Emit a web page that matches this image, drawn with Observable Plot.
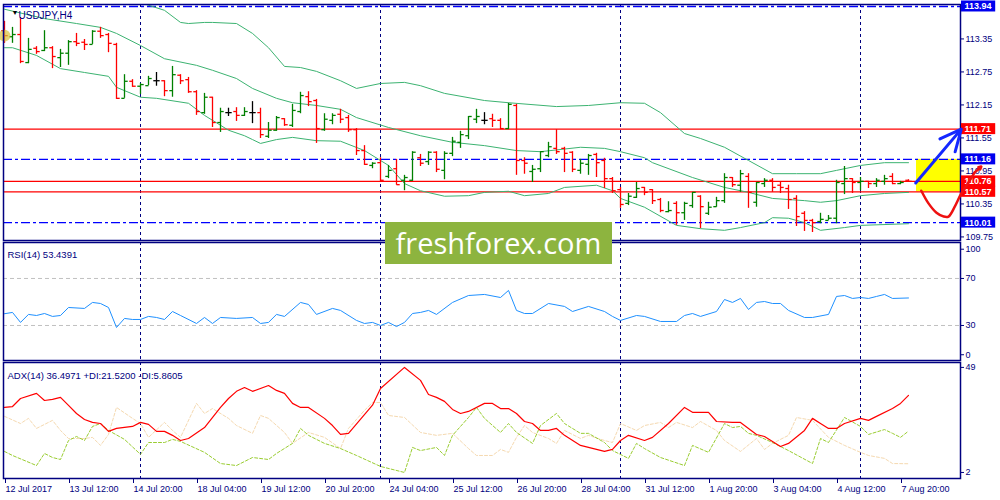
<!DOCTYPE html>
<html><head><meta charset="utf-8">
<script src="https://cdn.jsdelivr.net/npm/d3@7"></script>
<script src="https://cdn.jsdelivr.net/npm/@observablehq/plot@0.6"></script>
<style>
body{margin:0;background:#fff;}
#wrap{position:relative;width:1000px;height:500px;overflow:hidden;background:#fff;}
.panel{position:absolute;left:0;}
#wm{position:absolute;left:385px;top:222px;width:227px;height:42px;background:#8db43f;color:#fff;font-family:"Open Sans",sans-serif;font-size:29px;line-height:41px;text-align:center;}
</style></head><body>
<div id="wrap">
 <div id="main" class="panel" style="top:0"></div>
 <div id="rsi" class="panel" style="top:240px"></div>
 <div id="adx" class="panel" style="top:360px"></div>
 <div id="wm">freshforex.com</div>
</div>
<script>
// ---- OHLC (USDJPY H4), bar index 0..113 ----
const opens = [113.50,113.39,113.43,112.92,113.18,113.14,113.19,113.01,113.09,113.30,
 113.29,113.25,113.49,113.43,113.25,112.27,112.58,112.49,112.50,112.59,
 112.59,112.41,112.69,112.61,112.39,112.01,112.29,111.83,112.01,112.03,
 111.96,112.01,112.01,111.58,111.69,111.90,111.78,112.03,112.30,112.23,
 111.70,111.87,111.98,111.92,111.70,111.32,111.05,111.10,110.85,110.99,
 110.78,110.78,111.19,111.12,111.29,110.96,111.27,111.47,111.59,111.89,
 111.87,111.90,111.87,111.72,112.14,111.14,110.94,110.99,111.23,111.36,
 111.36,111.29,110.96,111.07,111.25,111.14,110.81,110.61,110.36,110.47,
 110.65,110.61,110.43,110.21,110.36,110.19,110.32,110.49,110.18,110.30,
 110.41,110.83,110.69,110.85,110.38,110.72,110.78,110.69,110.63,110.45,
 110.18,110.05,110.03,110.05,110.09,110.72,110.81,110.74,110.76,110.72,
 110.76,110.85,110.72,110.78];
const highs = [113.67,113.56,113.74,113.36,113.21,113.50,113.21,113.16,113.32,113.45,
 113.34,113.50,113.56,113.45,113.27,112.70,112.61,112.54,112.67,112.74,
 112.59,112.85,112.70,112.65,112.41,112.36,112.29,112.09,112.09,112.10,
 112.10,112.21,112.09,111.83,111.94,111.90,112.16,112.38,112.39,112.25,
 111.99,111.99,112.07,111.96,111.72,111.41,111.10,111.19,111.05,111.16,
 110.87,111.30,111.25,111.30,111.30,111.30,111.56,111.67,111.94,112.07,
 112.01,111.98,111.90,112.18,112.16,111.19,111.05,111.30,111.47,111.70,
 111.38,111.30,111.16,111.25,111.27,111.18,110.83,110.65,110.54,110.74,
 110.65,110.61,110.45,110.39,110.39,110.38,110.56,110.50,110.38,110.47,
 110.90,110.83,110.96,110.90,110.74,110.81,110.81,110.74,110.69,110.50,
 110.21,110.07,110.18,110.14,110.78,111.03,110.81,110.83,110.76,110.81,
 110.87,110.90,110.76,110.79];
const lows = [113.27,113.27,112.90,112.90,113.07,113.12,112.81,112.83,112.87,113.21,
 113.14,113.25,113.36,113.10,112.25,112.27,112.47,112.34,112.50,112.49,
 112.30,112.29,112.52,112.36,111.96,111.98,111.74,111.65,111.94,111.85,
 111.94,111.81,111.54,111.54,111.67,111.76,111.74,111.99,112.12,111.45,
 111.67,111.79,111.81,111.65,111.23,111.05,110.99,110.76,110.81,110.69,
 110.59,110.76,111.03,111.05,110.92,110.79,111.21,111.36,111.52,111.81,
 111.79,111.74,111.70,111.70,110.87,110.89,110.74,110.92,111.19,111.25,
 110.92,110.92,110.89,110.87,110.83,110.63,110.54,110.27,110.32,110.45,
 110.50,110.34,110.19,110.19,109.96,110.05,110.27,109.90,110.14,110.29,
 110.36,110.65,110.56,110.27,110.29,110.65,110.56,110.54,110.25,109.94,
 109.85,109.83,109.99,110.05,109.99,110.52,110.54,110.59,110.63,110.65,
 110.69,110.70,110.70,110.74];
const closes = [113.41,113.43,112.94,113.16,113.12,113.19,113.03,113.09,113.30,113.27,
 113.25,113.49,113.41,113.27,112.27,112.58,112.49,112.52,112.63,112.59,
 112.41,112.70,112.59,112.39,112.03,112.29,111.83,112.03,112.01,111.96,
 112.03,112.01,111.61,111.69,111.92,111.79,112.05,112.32,112.21,111.72,
 111.89,111.96,111.89,111.70,111.32,111.07,111.09,110.78,110.96,110.70,
 110.83,111.29,111.09,111.29,110.98,111.27,111.49,111.61,111.94,111.94,
 111.87,111.87,111.72,112.16,111.14,111.09,110.98,111.30,111.39,111.30,
 111.27,110.98,111.09,111.23,111.10,110.81,110.59,110.34,110.49,110.63,
 110.56,110.41,110.23,110.23,110.19,110.36,110.56,110.30,110.29,110.41,
 110.83,110.70,110.90,110.56,110.74,110.78,110.65,110.65,110.43,110.12,
 110.05,110.01,110.07,110.09,110.74,110.81,110.74,110.76,110.72,110.78,
 110.81,110.72,110.74,110.76];

// ---- Bollinger bands [barIndex, price] ----
const bbUpper = [[13,114.41],[17,114.01],[20,113.87],[22,113.65],[23,113.63],[25,113.65],[26,113.65],[29,113.63],[31,113.45],[33,113.19],[35,112.85],[37,112.83],[39,112.76],[42,112.59],[44,112.45],[47,112.54],[50,112.56],[52,112.50],[55,112.36],[60,112.23],[63,112.19],[69,112.12],[73,112.14],[77,112.19],[80,112.18],[82,112.01],[85,111.63],[87,111.54],[90,111.38],[93,111.14],[96,110.90],[99,110.90],[102,110.90],[104,110.96],[107,111.05],[110,111.10],[113,111.10]];
const bbMiddle = [[0,113.89],[5,113.72],[9,113.63],[12,113.56],[14,113.45],[17,113.23],[20,112.99],[24,112.87],[26,112.78],[29,112.63],[31,112.45],[34,112.27],[36,112.19],[39,112.14],[42,112.07],[44,111.92],[48,111.74],[52,111.59],[56,111.47],[60,111.41],[64,111.32],[67,111.30],[72,111.38],[75,111.36],[77,111.30],[80,111.19],[81,111.10],[86,110.83],[90,110.65],[93,110.56],[96,110.45],[100,110.41],[102,110.38],[104,110.41],[107,110.50],[110,110.54],[113,110.56]];
const bbLower = [[0,113.19],[1,113.19],[4,113.05],[7,112.81],[10,112.74],[13,112.67],[14,112.47],[17,112.29],[19,112.27],[23,112.18],[25,111.96],[28,111.69],[30,111.59],[31,111.52],[32,111.45],[34,111.52],[36,111.56],[39,111.50],[42,111.49],[45,111.32],[48,111.05],[50,110.72],[52,110.59],[55,110.49],[58,110.50],[60,110.56],[63,110.58],[65,110.50],[68,110.54],[70,110.65],[74,110.69],[76,110.59],[77,110.45],[80,110.29],[84,109.96],[87,109.90],[90,109.87],[92,109.92],[95,110.01],[96,110.10],[98,110.09],[100,110.01],[102,109.87],[105,109.92],[107,109.96],[113,109.99]];

// ---- RSI(14) ----
const rsi = [[0,40.0],[1,41.1],[2,32.6],[3,39.4],[4,38.5],[5,40.2],[6,37.7],[7,38.5],[8,45.3],[10,44.5],[11,49.6],[12,48.7],[13,45.3],[14,28.3],[15,36.0],[16,35.1],[17,35.1],[18,37.7],[19,36.8],[20,35.1],[21,41.9],[22,38.5],[24,31.7],[25,36.8],[26,31.7],[27,36.8],[29,36.0],[31,36.8],[32,31.7],[33,32.6],[34,39.4],[35,37.7],[37,49.6],[38,47.9],[39,39.4],[41,44.5],[42,42.8],[44,34.3],[45,31.7],[46,32.6],[47,30.0],[48,32.6],[49,29.1],[50,32.6],[51,40.2],[52,41.1],[53,42.8],[54,39.4],[56,49.6],[58,55.5],[60,56.4],[62,53.8],[63,59.8],[64,42.8],[65,40.2],[66,40.2],[68,48.7],[70,46.2],[71,41.9],[73,46.2],[75,41.9],[76,37.7],[77,34.3],[79,38.5],[80,37.7],[82,33.4],[84,33.4],[85,38.5],[86,40.2],[87,37.7],[89,41.9],[90,52.1],[91,49.6],[92,53.0],[93,43.6],[94,49.6],[95,50.4],[96,48.7],[97,48.7],[98,42.8],[100,36.8],[101,36.8],[103,39.4],[104,54.7],[105,55.5],[106,53.0],[107,53.8],[108,53.0],[109,54.7],[110,56.4],[111,53.0],[113,53.4]];
const rsiLevels = [70, 30];

// ---- ADX(14), +DI, -DI ----
const adx = [[0,31.1],[1,31.5],[2,35.1],[4,37.4],[5,34.2],[6,34.7],[7,35.6],[8,32.0],[9,28.4],[10,25.7],[11,24.4],[12,23.9],[13,20.4],[14,21.7],[16,22.6],[17,24.4],[18,23.5],[19,20.4],[20,20.4],[21,18.6],[22,16.3],[23,17.2],[25,22.1],[27,31.1],[28,35.1],[29,38.3],[30,40.0],[31,38.3],[33,40.9],[34,38.7],[35,37.4],[36,32.9],[37,31.1],[38,31.1],[40,26.2],[41,23.0],[42,19.0],[43,19.5],[46,32.1],[47,39.6],[50,49.0],[52,43.2],[53,36.9],[54,35.6],[55,33.8],[56,30.2],[57,28.4],[58,29.3],[60,32.9],[61,32.9],[62,30.6],[63,30.6],[64,28.4],[65,24.8],[66,23.9],[67,20.8],[68,20.8],[69,21.7],[70,18.6],[72,14.1],[73,13.2],[75,11.4],[76,12.3],[77,16.3],[78,18.6],[80,16.3],[81,17.7],[83,23.9],[85,31.1],[86,28.9],[88,28.9],[89,24.8],[91,24.4],[92,24.4],[94,19.0],[95,18.1],[97,13.6],[98,15.0],[100,20.8],[101,26.2],[102,23.9],[103,21.7],[104,21.7],[105,23.9],[107,26.2],[108,25.3],[109,27.1],[111,30.6],[112,32.9],[113,36.5]];
const plusDI = [[0,11.4],[1,9.6],[4,5.1],[5,10.5],[6,8.7],[7,7.8],[8,16.3],[9,18.1],[10,16.3],[11,22.6],[12,23.9],[13,20.8],[15,16.8],[17,10.1],[18,15.4],[20,15.4],[21,16.8],[22,15.9],[25,11.0],[27,6.0],[29,5.1],[31,8.7],[33,7.8],[34,10.5],[36,15.0],[37,21.7],[38,18.6],[40,15.0],[42,12.7],[44,9.6],[47,4.7],[50,2.0],[51,13.2],[52,11.8],[54,13.2],[55,9.6],[56,18.6],[58,26.6],[59,31.1],[60,26.2],[62,19.9],[63,23.9],[64,19.9],[66,15.0],[67,23.0],[69,28.4],[70,23.9],[72,19.5],[73,19.5],[75,15.4],[76,11.8],[78,8.3],[79,15.0],[80,12.7],[82,8.7],[85,5.1],[86,14.1],[88,11.0],[90,23.9],[91,22.1],[92,22.6],[93,19.5],[94,18.6],[96,15.4],[98,11.8],[101,6.0],[102,17.2],[103,15.4],[105,26.6],[107,22.6],[108,19.0],[110,21.2],[111,19.5],[112,17.7],[113,20.5]];
const minusDI = [[0,27.1],[2,23.9],[3,26.2],[4,21.7],[6,25.3],[7,20.8],[8,17.2],[10,17.2],[11,17.7],[12,14.1],[13,19.0],[14,31.1],[16,26.2],[17,23.9],[18,17.7],[20,24.4],[21,20.8],[22,17.7],[24,32.9],[25,28.4],[26,30.6],[28,26.2],[29,23.0],[31,19.5],[32,27.5],[33,26.2],[35,19.9],[36,15.0],[38,19.9],[40,17.7],[42,12.7],[43,21.7],[45,29.8],[46,33.3],[47,33.3],[48,27.5],[50,26.6],[52,19.9],[54,18.6],[56,19.5],[58,12.7],[59,9.6],[61,9.6],[62,12.3],[63,11.0],[64,17.7],[65,23.0],[66,19.9],[68,17.2],[69,15.0],[70,20.8],[72,17.2],[73,18.6],[75,16.3],[76,15.4],[77,23.9],[79,20.8],[80,23.0],[82,24.4],[83,22.1],[84,24.4],[86,22.1],[87,24.8],[89,20.8],[90,16.3],[92,11.4],[94,17.2],[95,12.3],[96,15.0],[98,18.6],[99,26.6],[101,25.3],[103,17.7],[105,14.1],[107,11.0],[108,9.6],[110,8.3],[111,6.0],[113,5.9]];
const adxScaleLabels = [49, 2];

// ---- Axes, levels, annotations ----
const xTickIdx = [0,8,16,24,32,40,48,56,64,72,80,88,96,104,112];
const xLabels = ["12 Jul 2017","13 Jul 12:00","14 Jul 20:00","18 Jul 04:00","19 Jul 12:00","20 Jul 20:00","24 Jul 04:00","25 Jul 12:00","26 Jul 20:00","28 Jul 04:00","31 Jul 12:00","1 Aug 20:00","3 Aug 04:00","4 Aug 12:00","7 Aug 20:00"];
const separatorIdx = [17, 47, 77, 107];
const priceTicks = [113.35, 112.75, 112.15, 111.55, 110.95, 110.35, 109.75];
const levelValues = [113.94, 111.71, 111.16, 110.76, 110.57, 110.01];
const levelKinds  = ["channel","target","channel","key","key","channel"];
const zoneStartIdx = 114, zoneTop = 111.16, zoneBottom = 110.57;
const blueArrow = {i1: 113.9, p1: 110.73, i2: 119.6, p2: 111.71};
const redCurve = [[114.6,110.59],[115.5,110.36],[116.5,110.19],[117.4,110.12],[118.0,110.12],[118.75,110.29],[119.6,110.54],[120.5,110.74],[121.25,110.92]];
const redHead = {i1: 121.25, p1: 110.92, i2: 122.1, p2: 111.03};
const titleText = "USDJPY,H4";
const rsiTitle = "RSI(14) 53.4391";
const adxTitle = "ADX(14) 36.4971 +DI:21.5200 -DI:5.8605";

// ---- build ----
const NAVY = "#000080";
const xDom = [-0.125, 119.5];
const FONT = '"Liberation Sans", Arial, sans-serif';
const common = {width:1000, marginLeft:3, marginRight:40, x:{domain:xDom, axis:null},
  style:{fontFamily:FONT, fontSize:"9px", color:NAVY, background:"transparent", overflow:"visible"}};
const pts = arr => arr.map(([i,v]) => ({i, v}));
const bars = opens.map((o,i) => ({i, open:o, high:highs[i], low:lows[i], close:closes[i]}));
const barColor = d => d.close > d.open ? "#008000" : d.close < d.open ? "#ff0000" : "#000000";
const levels = levelValues.map((v,k) => ({v, kind:levelKinds[k]}));
const isBlue = d => d.kind === "channel";
const levelFill = d => isBlue(d) ? "#0000ee" : "#ff0000";
const sepRule = () => Plot.ruleX(separatorIdx, {stroke:NAVY, strokeDasharray:"3,3", strokeWidth:1});
const yAx = (ticks, extra={}) => Plot.axisY(ticks, {anchor:"right", tickSize:3, tickPadding:2, label:null, ...extra});

const main = Plot.plot({...common, height:244, marginTop:4, marginBottom:4,
  y:{domain:[109.685,113.976], axis:null, label:null},
  marks:[
    Plot.rect([0], {x1:zoneStartIdx, x2:xDom[1], y1:zoneBottom, y2:zoneTop, fill:"#ffff00"}),
    sepRule(),
    Plot.ruleY(levels.filter(d=>!isBlue(d)), {y:"v", stroke:"#ff0000", strokeWidth:1.2}),
    Plot.ruleY(levels.filter(isBlue), {y:"v", stroke:"#0000ff", strokeWidth:1.3, strokeDasharray:"9,3,3,3"}),
    Plot.line(pts(bbUpper), {x:"i", y:"v", stroke:"#3cb371", strokeWidth:1, clip:true}),
    Plot.line(pts(bbMiddle), {x:"i", y:"v", stroke:"#3cb371", strokeWidth:1, clip:true}),
    Plot.line(pts(bbLower), {x:"i", y:"v", stroke:"#3cb371", strokeWidth:1, clip:true}),
    Plot.ruleX(bars, {x:"i", y1:"low", y2:"high", stroke:barColor, strokeWidth:1.3}),
    Plot.link(bars, {x1:d=>d.i-0.4, x2:"i", y1:"open", y2:"open", stroke:barColor, strokeWidth:1.3}),
    Plot.link(bars, {x1:"i", x2:d=>d.i+0.4, y1:"close", y2:"close", stroke:barColor, strokeWidth:1.3}),
    Plot.dot([bars[0]], {x:"i", y:"close", r:6, fill:"#d8c43a", fillOpacity:0.7}),
    Plot.frame({stroke:NAVY, strokeWidth:1.5}),
    yAx(priceTicks, {tickFormat:d=>d.toFixed(2)}),
    Plot.rect(levels, {x1:xDom[1], x2:xDom[1]+4.4, y1:d=>d.v-0.1, y2:d=>d.v+0.1, fill:levelFill, insetLeft:1}),
    Plot.text(levels, {x:xDom[1], y:"v", dx:4, text:d=>d.v.toFixed(2), fill:"white", textAnchor:"start", fontWeight:"bold", fontSize:9}),
    Plot.arrow([blueArrow], {x1:"i1", y1:"p1", x2:"i2", y2:"p2", stroke:"#1428ff", strokeWidth:3, headLength:14, headAngle:50}),
    Plot.line(pts(redCurve), {x:"i", y:"v", curve:"catmull-rom", stroke:"#ee1111", strokeWidth:2.5}),
    Plot.arrow([redHead], {x1:"i1", y1:"p1", x2:"i2", y2:"p2", stroke:"#ee1111", strokeWidth:2.5, headLength:12, headAngle:55}),
    Plot.text(["\u25BC"], {frameAnchor:"top-left", dx:8, dy:6, fontSize:7, fill:"#000000"}),
    Plot.text([titleText], {frameAnchor:"top-left", dx:15, dy:7, textAnchor:"start", fontSize:10, fill:NAVY})
  ]});
document.getElementById("main").append(main);

const rsiPlot = Plot.plot({...common, height:122, marginTop:2, marginBottom:2,
  y:{domain:[0.2,100.6], axis:null, label:null},
  marks:[
    Plot.ruleY(rsiLevels, {stroke:"#c0c0c0", strokeDasharray:"4,3"}),
    sepRule(),
    Plot.line(pts(rsi), {x:"i", y:"v", stroke:"#1e90ff", strokeWidth:1}),
    Plot.frame({stroke:NAVY, strokeWidth:1.5}),
    yAx(rsiLevels),
    yAx([100], {dy:6}),
    yAx([0], {dy:-6}),
    Plot.text([rsiTitle], {frameAnchor:"top-left", dx:4, dy:9, textAnchor:"start", fontSize:9.5, fill:NAVY})
  ]});
document.getElementById("rsi").append(rsiPlot);

const adxPlot = Plot.plot({...common, height:140, marginTop:2, marginBottom:22,
  y:{domain:[-0.7,51.2], axis:null, label:null},
  marks:[
    sepRule(),
    Plot.line(pts(minusDI), {x:"i", y:"v", stroke:"#f5d9b0", strokeWidth:1, strokeDasharray:"3,2"}),
    Plot.line(pts(plusDI), {x:"i", y:"v", stroke:"#9acd32", strokeWidth:1, strokeDasharray:"3,2"}),
    Plot.line(pts(adx), {x:"i", y:"v", stroke:"#ff0000", strokeWidth:1.2}),
    Plot.frame({stroke:NAVY, strokeWidth:1.5}),
    yAx(adxScaleLabels),
    Plot.axisX(xTickIdx, {anchor:"bottom", tickSize:5, tickPadding:2, textAnchor:"start", dx:1, label:null, tickFormat:d=>xLabels[Math.round(d/8)]}),
    Plot.text([adxTitle], {frameAnchor:"top-left", dx:4, dy:10, textAnchor:"start", fontSize:9.5, fill:NAVY})
  ]});
document.getElementById("adx").append(adxPlot);
</script>
</body></html>
